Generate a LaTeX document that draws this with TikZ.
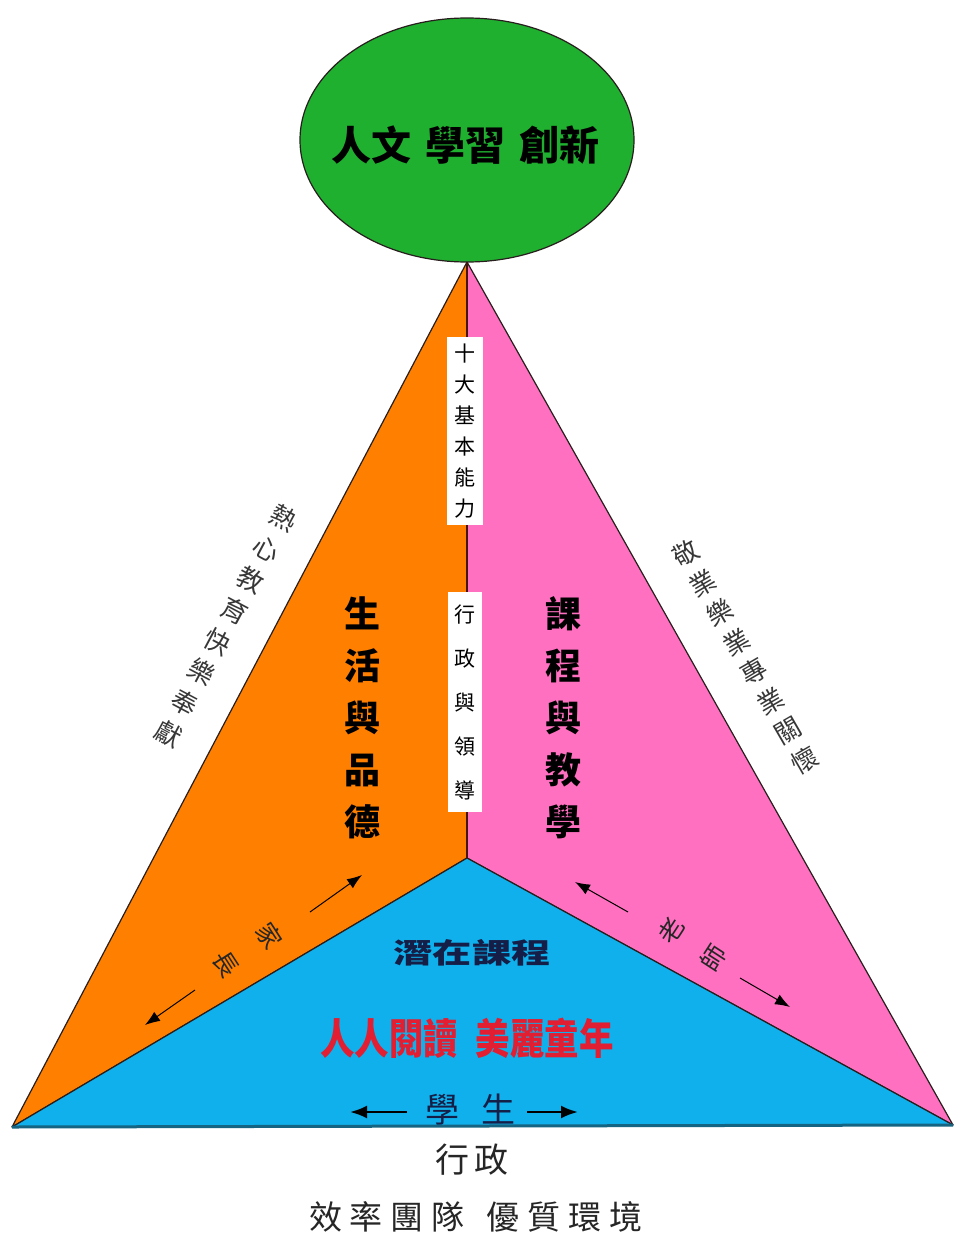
\documentclass[tikz,border=0pt]{standalone}
\usepackage{fontspec}
\newfontfamily\cjk{Noto Sans CJK TC}
\usetikzlibrary{arrows.meta,shapes.geometric}
\definecolor{greenC}{RGB}{32,176,48}
\definecolor{orangeC}{RGB}{255,128,0}
\definecolor{pinkC}{RGB}{255,112,192}
\definecolor{blueC}{RGB}{16,176,236}
\definecolor{redT}{RGB}{225,30,50}
\definecolor{navyT}{RGB}{20,30,70}
\definecolor{grayT}{RGB}{55,55,55}
\definecolor{edgeC}{RGB}{40,30,30}
\definecolor{baseC}{RGB}{20,100,130}
\definecolor{midC}{RGB}{70,20,10}
\newcommand{\fs}[2]{\fontsize{#1}{#2}\selectfont}
\begin{document}
\begin{tikzpicture}[x=1pt,y=-1pt,
  every node/.style={inner sep=0pt},
  col/.style={align=center},
  face/.style={draw=edgeC,line width=1.2pt,line join=round},
  arr/.style={-{Latex[length=15pt,width=11pt]},line width=1pt,draw=black},
  barr/.style={-{Latex[length=17pt,width=13pt]},line width=2.5pt,draw=black}]
\useasboundingbox (0,0) rectangle (956,1236);
\fill[white] (0,0) rectangle (956,1236);
\coordinate (A) at (467,262);
\coordinate (L) at (12,1127);
\coordinate (R) at (953,1125);
\coordinate (C) at (467,858);
% faces
\filldraw[face,fill=orangeC] (A) -- (L) -- (C) -- cycle;
\filldraw[face,fill=pinkC] (A) -- (C) -- (R) -- cycle;
\filldraw[face,fill=blueC] (L) -- (C) -- (R) -- cycle;
\draw[baseC,line width=3pt] (L) -- (R);
\draw[midC,line width=2.5pt] (A) -- (C);
% top ellipse
\node[ellipse,draw=edgeC,line width=1.2pt,fill=greenC,minimum width=334pt,minimum height=244pt] (top) at (467,140) {};
\node[font=\cjk\fs{40}{40}\bfseries] (toptext) at (465,145) {人文\hspace{14pt}學習\hspace{14pt}創新};
% white boxes on the middle line
\node[fill=white,minimum width=36pt,minimum height=188pt] (b1) at (465,431) {};
\node[col,font=\cjk\fs{21}{31}] (b1t) at (465,431) {十\\大\\基\\本\\能\\力};
\node[fill=white,minimum width=34pt,minimum height=220pt] (b2) at (465,702) {};
\node[col,font=\cjk\fs{21}{44}] (b2t) at (465,702) {行\\政\\與\\領\\導};
% face labels
\node[col,font=\cjk\fs{36}{52}\bfseries] (life) at (362,718) {生\\活\\與\\品\\德};
\node[col,font=\cjk\fs{36}{52}\bfseries] (course) at (563,718) {課\\程\\與\\教\\學};
% outer slanted labels
\node[col,text=grayT,rotate=-28,font=\cjk\fs{26}{35}] (heart) at (226,626) {熱\\心\\教\\育\\快\\樂\\奉\\獻};
\node[col,text=grayT,rotate=30,font=\cjk\fs{26}{34}] (prof) at (745,657) {敬\\業\\樂\\業\\專\\業\\關\\懷};
% parents
\node[col,text=black!85,rotate=-57,font=\cjk\fs{25}{52}] (par) at (248,950) {家\\長};
\coordinate (par0) at (310,912);
\coordinate (par1) at (362,875);
\coordinate (par3) at (195,990);
\coordinate (par2) at (145,1025);
\draw[arr] (par0) -- (par1);
\draw[arr] (par3) -- (par2);
% teachers
\node[col,text=black!85,rotate=57,font=\cjk\fs{25}{50}] (tea) at (692,944) {老\\師};
\coordinate (tea0) at (628,912);
\coordinate (tea1) at (575,882);
\coordinate (tea3) at (740,978);
\coordinate (tea2) at (790,1007);
\draw[arr] (tea0) -- (tea1);
\draw[arr] (tea3) -- (tea2);
% bottom face
\node[text=navyT,xscale=1.4,font=\cjk\fs{28}{28}\bfseries] (latent) at (472,953) {潛在課程};
\node[text=redT,xscale=0.82,font=\cjk\fs{42}{42}\bfseries] (read) at (467,1038) {人人閱讀\hspace{22pt}美麗童年};
\node[text=navyT,font=\cjk\fs{34}{34}] (stu) at (470,1110) {學\hspace{22pt}生};
\coordinate (stu0) at (407,1112);
\coordinate (stu1) at (350,1112);
\coordinate (stu3) at (527,1112);
\coordinate (stu2) at (578,1112);
\draw[barr] (stu0) -- (stu1);
\draw[barr] (stu3) -- (stu2);
% administration
\node[text=black!85,font=\cjk\fs{34}{34}] (adm) at (472,1160) {行\hspace{6pt}政};
\node[text=black!85,font=\cjk\fs{33}{33}] (team) at (476,1217) {效\hspace{8pt}率\hspace{8pt}團\hspace{8pt}隊\hspace{22pt}優\hspace{8pt}質\hspace{8pt}環\hspace{8pt}境};
\end{tikzpicture}
\end{document}
